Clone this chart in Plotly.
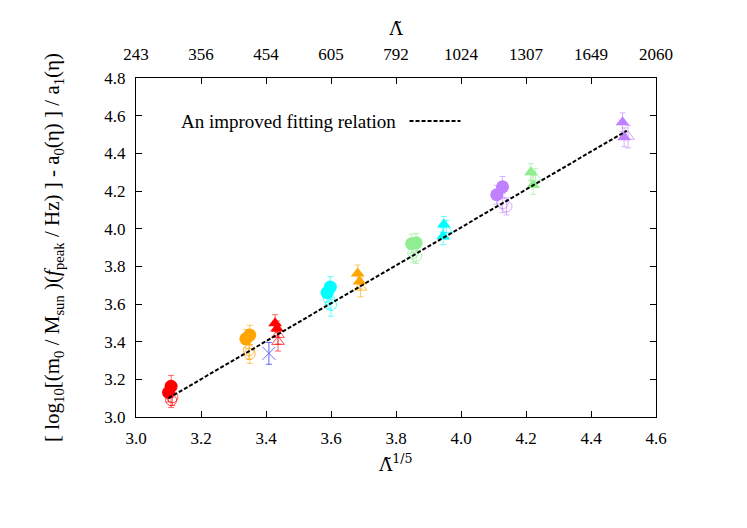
import plotly.graph_objects as go

# bottom / top axis ticks
x_ticks = [3.0, 3.2, 3.4, 3.6, 3.8, 4.0, 4.2, 4.4, 4.6]
lam_labels = ["243", "356", "454", "605", "792", "1024", "1307", "1649", "2060"]

# filled circles
fc_x = [3.100, 3.108, 3.338, 3.350, 3.588, 3.598, 3.848, 3.862, 4.110, 4.128]
fc_y = [3.130, 3.163, 3.415, 3.435, 3.660, 3.690, 3.920, 3.925, 4.180, 4.222]
fc_err = [0.05, 0.058, 0.05, 0.052, 0.05, 0.055, 0.05, 0.05, 0.05, 0.055]
fc_grp = ["red", "red", "orange", "orange", "cyan", "cyan", "green", "green", "purple", "purple"]

# open circles
oc_x = [3.112, 3.108, 3.347, 3.350, 3.600, 3.594, 3.853, 3.862, 4.128, 4.140]
oc_y = [3.105, 3.090, 3.355, 3.335, 3.595, 3.625, 3.872, 3.855, 4.135, 4.118]
oc_err = [0.045, 0.04, 0.05, 0.05, 0.06, 0.05, 0.05, 0.04, 0.05, 0.045]
oc_grp = ["red", "red", "orange", "orange", "cyan", "cyan", "green", "green", "purple", "purple"]

# filled triangles
ft_x = [3.428, 3.434, 3.682, 3.688, 3.947, 3.945, 4.215, 4.222, 4.497, 4.502]
ft_y = [3.498, 3.470, 3.762, 3.720, 4.022, 3.960, 4.300, 4.232, 4.565, 4.485]
ft_err = [0.045, 0.04, 0.045, 0.04, 0.043, 0.045, 0.045, 0.05, 0.05, 0.05]
ft_grp = ["red", "red", "orange", "orange", "cyan", "cyan", "green", "green", "purple", "purple"]

# open triangles
ot_x = [3.437, 3.437, 3.691, 3.955, 4.229, 4.514]
ot_y = [3.437, 3.400, 3.688, 3.993, 4.268, 4.489]
ot_err = [0.05, 0.05, 0.05, 0.05, 0.05, 0.06]
ot_grp = ["red", "red", "orange", "cyan", "green", "purple"]

# single cross
cross_x = [3.409]
cross_y = [3.338]
cross_err = [0.058]

# fitting relation end points
fit_x = [3.10, 4.51]
fit_y = [3.10, 4.52]

COLORS = {
    "red": (255, 0, 0),
    "orange": (255, 165, 0),
    "cyan": (0, 255, 255),
    "green": (144, 238, 144),
    "purple": (192, 128, 255),
    "blue": (60, 60, 255),
}
FONT = "Liberation Serif, Times New Roman, serif"
TILDE_FONT = "DejaVu Serif, serif"


def rgba(name, a=1.0):
    r, g, b = COLORS[name]
    return f"rgba({r},{g},{b},{a})"


fig = go.Figure()


def add_group(xs, ys, errs, grps, symbol, size, filled):
    for name in dict.fromkeys(grps):
        idx = [i for i, g in enumerate(grps) if g == name]
        fig.add_trace(go.Scatter(
            x=[xs[i] for i in idx],
            y=[ys[i] for i in idx],
            mode="markers",
            marker=dict(
                symbol=symbol,
                size=size,
                color=rgba(name, 1.0 if filled else 0.7),
                line=dict(width=1 if not filled else 0, color=rgba(name, 0.7)),
            ),
            error_y=dict(
                type="data", array=[errs[i] for i in idx], visible=True,
                color=rgba(name, 0.6), thickness=1, width=3,
            ),
            showlegend=False,
        ))


add_group(oc_x, oc_y, oc_err, oc_grp, "circle-open", 11, False)
add_group(ot_x, ot_y, ot_err, ot_grp, "triangle-up-open", 11, False)
add_group(fc_x, fc_y, fc_err, fc_grp, "circle", 13, True)
add_group(ft_x, ft_y, ft_err, ft_grp, "triangle-up", 12, True)

fig.add_trace(go.Scatter(
    x=cross_x, y=cross_y, mode="markers",
    marker=dict(symbol="x-thin-open", size=13, line=dict(width=1, color=rgba("blue"))),
    error_y=dict(type="data", array=cross_err, visible=True,
                 color=rgba("blue", 0.8), thickness=1, width=3),
    showlegend=False,
))

fig.add_trace(go.Scatter(
    x=fit_x, y=fit_y, mode="lines",
    line=dict(color="black", width=2, dash="4px,2px"),
    showlegend=False,
))

# invisible trace so the top axis exists
fig.add_trace(go.Scatter(x=fit_x, y=fit_y, xaxis="x2", mode="lines",
                         line=dict(width=0), opacity=0, hoverinfo="skip",
                         showlegend=False))

# gnuplot-style key: text then sample
fig.add_annotation(
    x=0.082, y=0.873, xref="paper", yref="paper", xanchor="left", yanchor="middle",
    text="An improved fitting relation", showarrow=False,
    font=dict(family=FONT, size=19, color="black"),
)
fig.add_shape(type="line", xref="paper", yref="paper", x0=0.526, x1=0.624,
              y0=0.873, y1=0.873, line=dict(color="black", width=2, dash="4px,2px"))

axis_common = dict(
    showgrid=False, zeroline=False, ticks="inside", ticklen=6,
    tickcolor="black", linecolor="black", linewidth=1, showline=True,
    tickfont=dict(family=FONT, size=17, color="black"),
)

fig.update_layout(
    width=747, height=528,
    paper_bgcolor="white", plot_bgcolor="white",
    margin=dict(l=128, r=99, t=70, b=119),
    font=dict(family=FONT, size=16, color="black"),
    xaxis=dict(
        range=[3.0, 4.6], tickvals=x_ticks, tickformat=".1f", mirror=True,
        ticklabelstandoff=6,
        title=dict(text="Λ̃<sup>1/5</sup>", font=dict(family=TILDE_FONT, size=18), standoff=10),
        **axis_common,
    ),
    xaxis2=dict(
        range=[3.0, 4.6], overlaying="x", side="top", anchor="y",
        tickvals=x_ticks, ticktext=lam_labels, ticklabelstandoff=10,
        title=dict(text="Λ̃", font=dict(family=TILDE_FONT, size=18), standoff=4),
        **axis_common,
    ),
    yaxis=dict(
        range=[3.0, 4.8], dtick=0.2, tick0=3.0, tickformat=".1f", mirror="ticks",
        ticklabelstandoff=6,
        title=dict(
            text="[ log<sub>10</sub>[(m<sub>0</sub> / M<sub>sun</sub> )(<i>f</i><sub>peak</sub> / Hz) ] - a<sub>0</sub>(η) ] / a<sub>1</sub>(η)",
            font=dict(family=FONT, size=21), standoff=38,
        ),
        **axis_common,
    ),
)

fig.write_html("out.html")
